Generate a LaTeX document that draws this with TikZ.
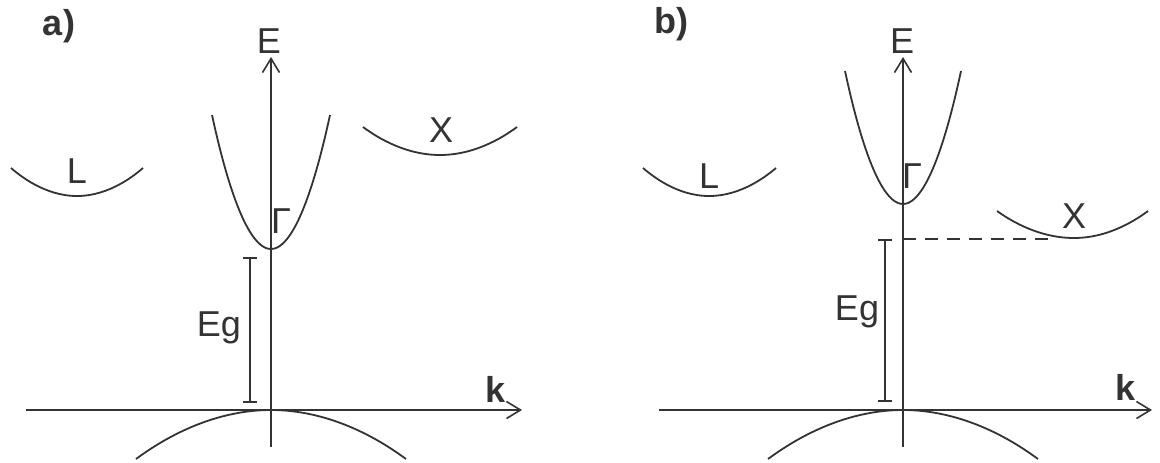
\documentclass[tikz,border=0pt]{standalone}
\usepackage{fontspec}
\setmainfont{Liberation Sans}
\usetikzlibrary{arrows.meta,positioning}
\definecolor{darkgray}{gray}{0.2}

\begin{document}
\begin{tikzpicture}[
  x=0.5pt, y=-0.5pt,
  axis/.style={line width=0.7pt, color=darkgray},
  arr/.style={axis, -{Straight Barb[length=7pt,width=8.5pt,line width=0.8pt]}},
  band/.style={line width=0.9pt, color=darkgray},
  gapbar/.style={line width=0.8pt, color=darkgray, {Bar[width=7pt]}-{Bar[width=7pt]}},
  lbl/.style={font=\fontsize{18}{21}\selectfont, text=darkgray, inner sep=0pt, anchor=base},
  tag/.style={lbl, font=\fontsize{18}{21}\selectfont\bfseries},
]
  \useasboundingbox (0,0) rectangle (1160,462);

  % a) direct gap
  \coordinate (ea) at (271,57);
  \coordinate (ba) at (271,447);
  \coordinate (la) at (26,410);
  \coordinate (ka) at (522,410);
  \coordinate (ga1) at (250,257);
  \coordinate (ga2) at (250,403);

  \draw[arr] (ba) -- (ea);
  \draw[arr] (la) -- (ka);
  \draw[band] (212,115) parabola bend (271,249) (330,115);
  \draw[band] (11,168) parabola bend (77,196) (143,168);
  \draw[band] (363,127) parabola bend (440,155) (517,127);
  \draw[band] (136,459) parabola bend (271,410) (406,459);
  \draw[gapbar] (ga1) -- (ga2);

  \node[tag] (taga) at (59,35) {a)};
  \node[lbl] (Ea) at (269,53) {E};
  \node[tag] (kka) at (496,402) {k};
  \node[lbl] (Ga) at (281,233) {Γ};
  \node[lbl] (La) at (77,183) {L};
  \node[lbl] (Xa) at (441,142) {X};
  \node[lbl] (Ega) at (219,336) {Eg};

  % b) indirect gap
  \coordinate (eb) at (903,57);
  \coordinate (bb) at (903,447);
  \coordinate (lb) at (659,410);
  \coordinate (kb) at (1152,410);
  \coordinate (gb1) at (885,239);
  \coordinate (gb2) at (885,402);
  \coordinate (db1) at (903,239);
  \coordinate (db2) at (1050,239);

  \draw[arr] (bb) -- (eb);
  \draw[arr] (lb) -- (kb);
  \draw[band] (845,71) parabola bend (903,204) (961,71);
  \draw[band] (643,168) parabola bend (709,196) (776,168);
  \draw[band] (997,211) parabola bend (1074,238) (1148,211);
  \draw[band] (768,459) parabola bend (903,410) (1038,459);
  \draw[gapbar] (gb1) -- (gb2);
  \draw[axis, dash pattern=on 6.5pt off 4.5pt] (db1) -- (db2);

  \node[tag] (tagb) at (671,33) {b)};
  \node[lbl] (Eb) at (902,53) {E};
  \node[tag] (kkb) at (1125,400) {k};
  \node[lbl] (Gb) at (912,188) {Γ};
  \node[lbl] (Lb) at (709,188) {L};
  \node[lbl] (Xb) at (1074,228) {X};
  \node[lbl] (Egb) at (857,320) {Eg};
\end{tikzpicture}
\end{document}
